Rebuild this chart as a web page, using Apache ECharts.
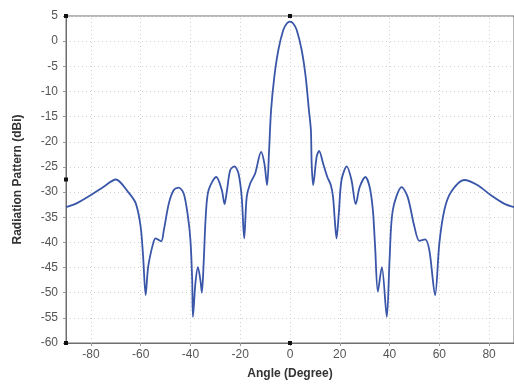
<!DOCTYPE html>
<html>
<head>
<meta charset="utf-8">
<script src="https://cdn.jsdelivr.net/npm/echarts@6/dist/echarts.min.js"></script>
<style>
  html, body { margin: 0; padding: 0; background: #ffffff; }
  #chart { width: 514px; height: 390px; }
</style>
</head>
<body>
<div id="chart"></div>
<script>
// angle (degree) and radiation pattern (dBi)
const angles = [
  -90, -86, -80, -75, -70, -65, -62, -60, -59, -58, -57, -55, -54, -51.8, -50.7, -48.7, -46.7,
  -44.7, -42.7, -41, -40, -39.3, -39, -38, -37, -36, -35.4, -34.7, -33.8, -32.7, -29.6, -27.4,
  -26.3, -25.3, -24, -22.3, -20.7, -19.4, -18.4, -17.4, -16, -14, -11.6, -10.3, -9.2, -8.4,
  -7.6, -6.3, -4.7, -2.7, -1.3, 0, 1.3, 2.7, 4.7, 6.3, 7.6, 8.4, 8.7, 9.3, 10.7, 11.7, 13.3, 15, 16.4,
  17.3, 18, 18.7, 19.6, 20.7, 22.8, 24.7, 26.4, 28, 30.3, 32, 33.3, 34.2, 35.3, 36.9, 38.9,
  40, 41.3, 44.9, 47.3, 50, 52, 54.3, 56, 58.3, 60, 62, 64.7, 70, 75.3, 80.6, 86, 90
];
const gain = [
  -33, -32.3, -30.6, -29, -27.5, -30, -32.2, -36.9, -42.9, -50.5, -44.9, -40.2, -39.2, -39.8, -37.6, -32.3, -29.6,
  -29.1, -30.3, -34.9, -39.6, -47.5, -54.8, -48.1, -44.9, -47.5, -50, -44.2, -34.3, -29.6, -27, -29.6,
  -32.4, -29.6, -25.6, -24.9, -26.3, -31, -39.2, -31, -28.3, -26.3, -22, -24.3, -28.6, -21.7,
  -13.7, -7.1, -1.8, 2.2, 3.5, 3.9, 3.5, 2.2, -1.8, -7.1, -13.7, -17.7, -24.3, -28.6, -23, -21.8, -24.3, -27, -28.6,
  -31, -35.6, -39.2, -34.3, -27.6, -24.9, -27.6, -32.4, -29, -27, -29, -33.6, -40.9, -49.8, -44.9, -54.8,
  -43.5, -33.6, -29, -31, -36.9, -39.7, -39.4, -41.6, -50.5, -40.2, -33.6, -30, -27.6, -28.6, -30.6, -32.3, -33
];
const xTicks = [-80, -60, -40, -20, 0, 20, 40, 60, 80];
const markers = [[-90, 5], [0, 5], [-90, -27.5], [-90, -60], [0, -60]];

const chart = echarts.init(document.getElementById("chart"));

const gridLineStyle = { color: "#d0d0d0", type: [1, 3], width: 1 };

const option = {
  backgroundColor: "#ffffff",
  animation: false,
  grid: {
    left: 66,
    right: -3,
    top: 16,
    bottom: 47,
    show: true,
    borderColor: "#6e6e6e",
    borderWidth: 1,
  },
  xAxis: {
    type: "value",
    min: -90,
    max: 90,
    name: "Angle (Degree)",
    nameLocation: "middle",
    nameGap: 25,
    nameTextStyle: { color: "#333", fontSize: 12, fontWeight: "bold", fontFamily: "Liberation Sans" },
    axisLine: { show: true, onZero: false, lineStyle: { color: "#6e6e6e" } },
    axisTick: { show: true, length: 3, customValues: xTicks, lineStyle: { color: "#999" } },
    axisLabel: {
      color: "#555",
      fontSize: 12,
      fontFamily: "Liberation Sans",
      margin: 6,
      customValues: xTicks,
    },
    splitLine: { show: false },
  },
  yAxis: {
    type: "value",
    min: -60,
    max: 5,
    interval: 5,
    name: "Radiation Pattern (dBi)",
    nameLocation: "middle",
    nameGap: 42,
    nameTextStyle: { color: "#333", fontSize: 12, fontWeight: "bold", fontFamily: "Liberation Sans" },
    axisLine: { show: true, onZero: false, lineStyle: { color: "#6e6e6e" } },
    axisTick: { show: true, length: 3, lineStyle: { color: "#999" } },
    axisLabel: { color: "#555", fontSize: 12, fontFamily: "Liberation Sans", margin: 8 },
    splitLine: { show: true, lineStyle: gridLineStyle },
  },
  series: [
    {
      type: "line",
      data: angles.map((a, i) => [a, gain[i]]),
      smooth: 0.3,
      showSymbol: false,
      z: 3,
      lineStyle: { color: "#3a56a8", width: 1.8 },
      // vertical dotted grid lines at the labelled angles
      markLine: {
        silent: true,
        symbol: "none",
        label: { show: false },
        lineStyle: gridLineStyle,
        z: 1,
        data: xTicks.map((v) => ({ xAxis: v })),
      },
      markPoint: {
        symbol: "rect",
        symbolSize: 4,
        itemStyle: { color: "#111" },
        label: { show: false },
        data: markers.map((m) => ({ coord: m })),
      },
    },
  ],
};

chart.setOption(option);
</script>
</body>
</html>
